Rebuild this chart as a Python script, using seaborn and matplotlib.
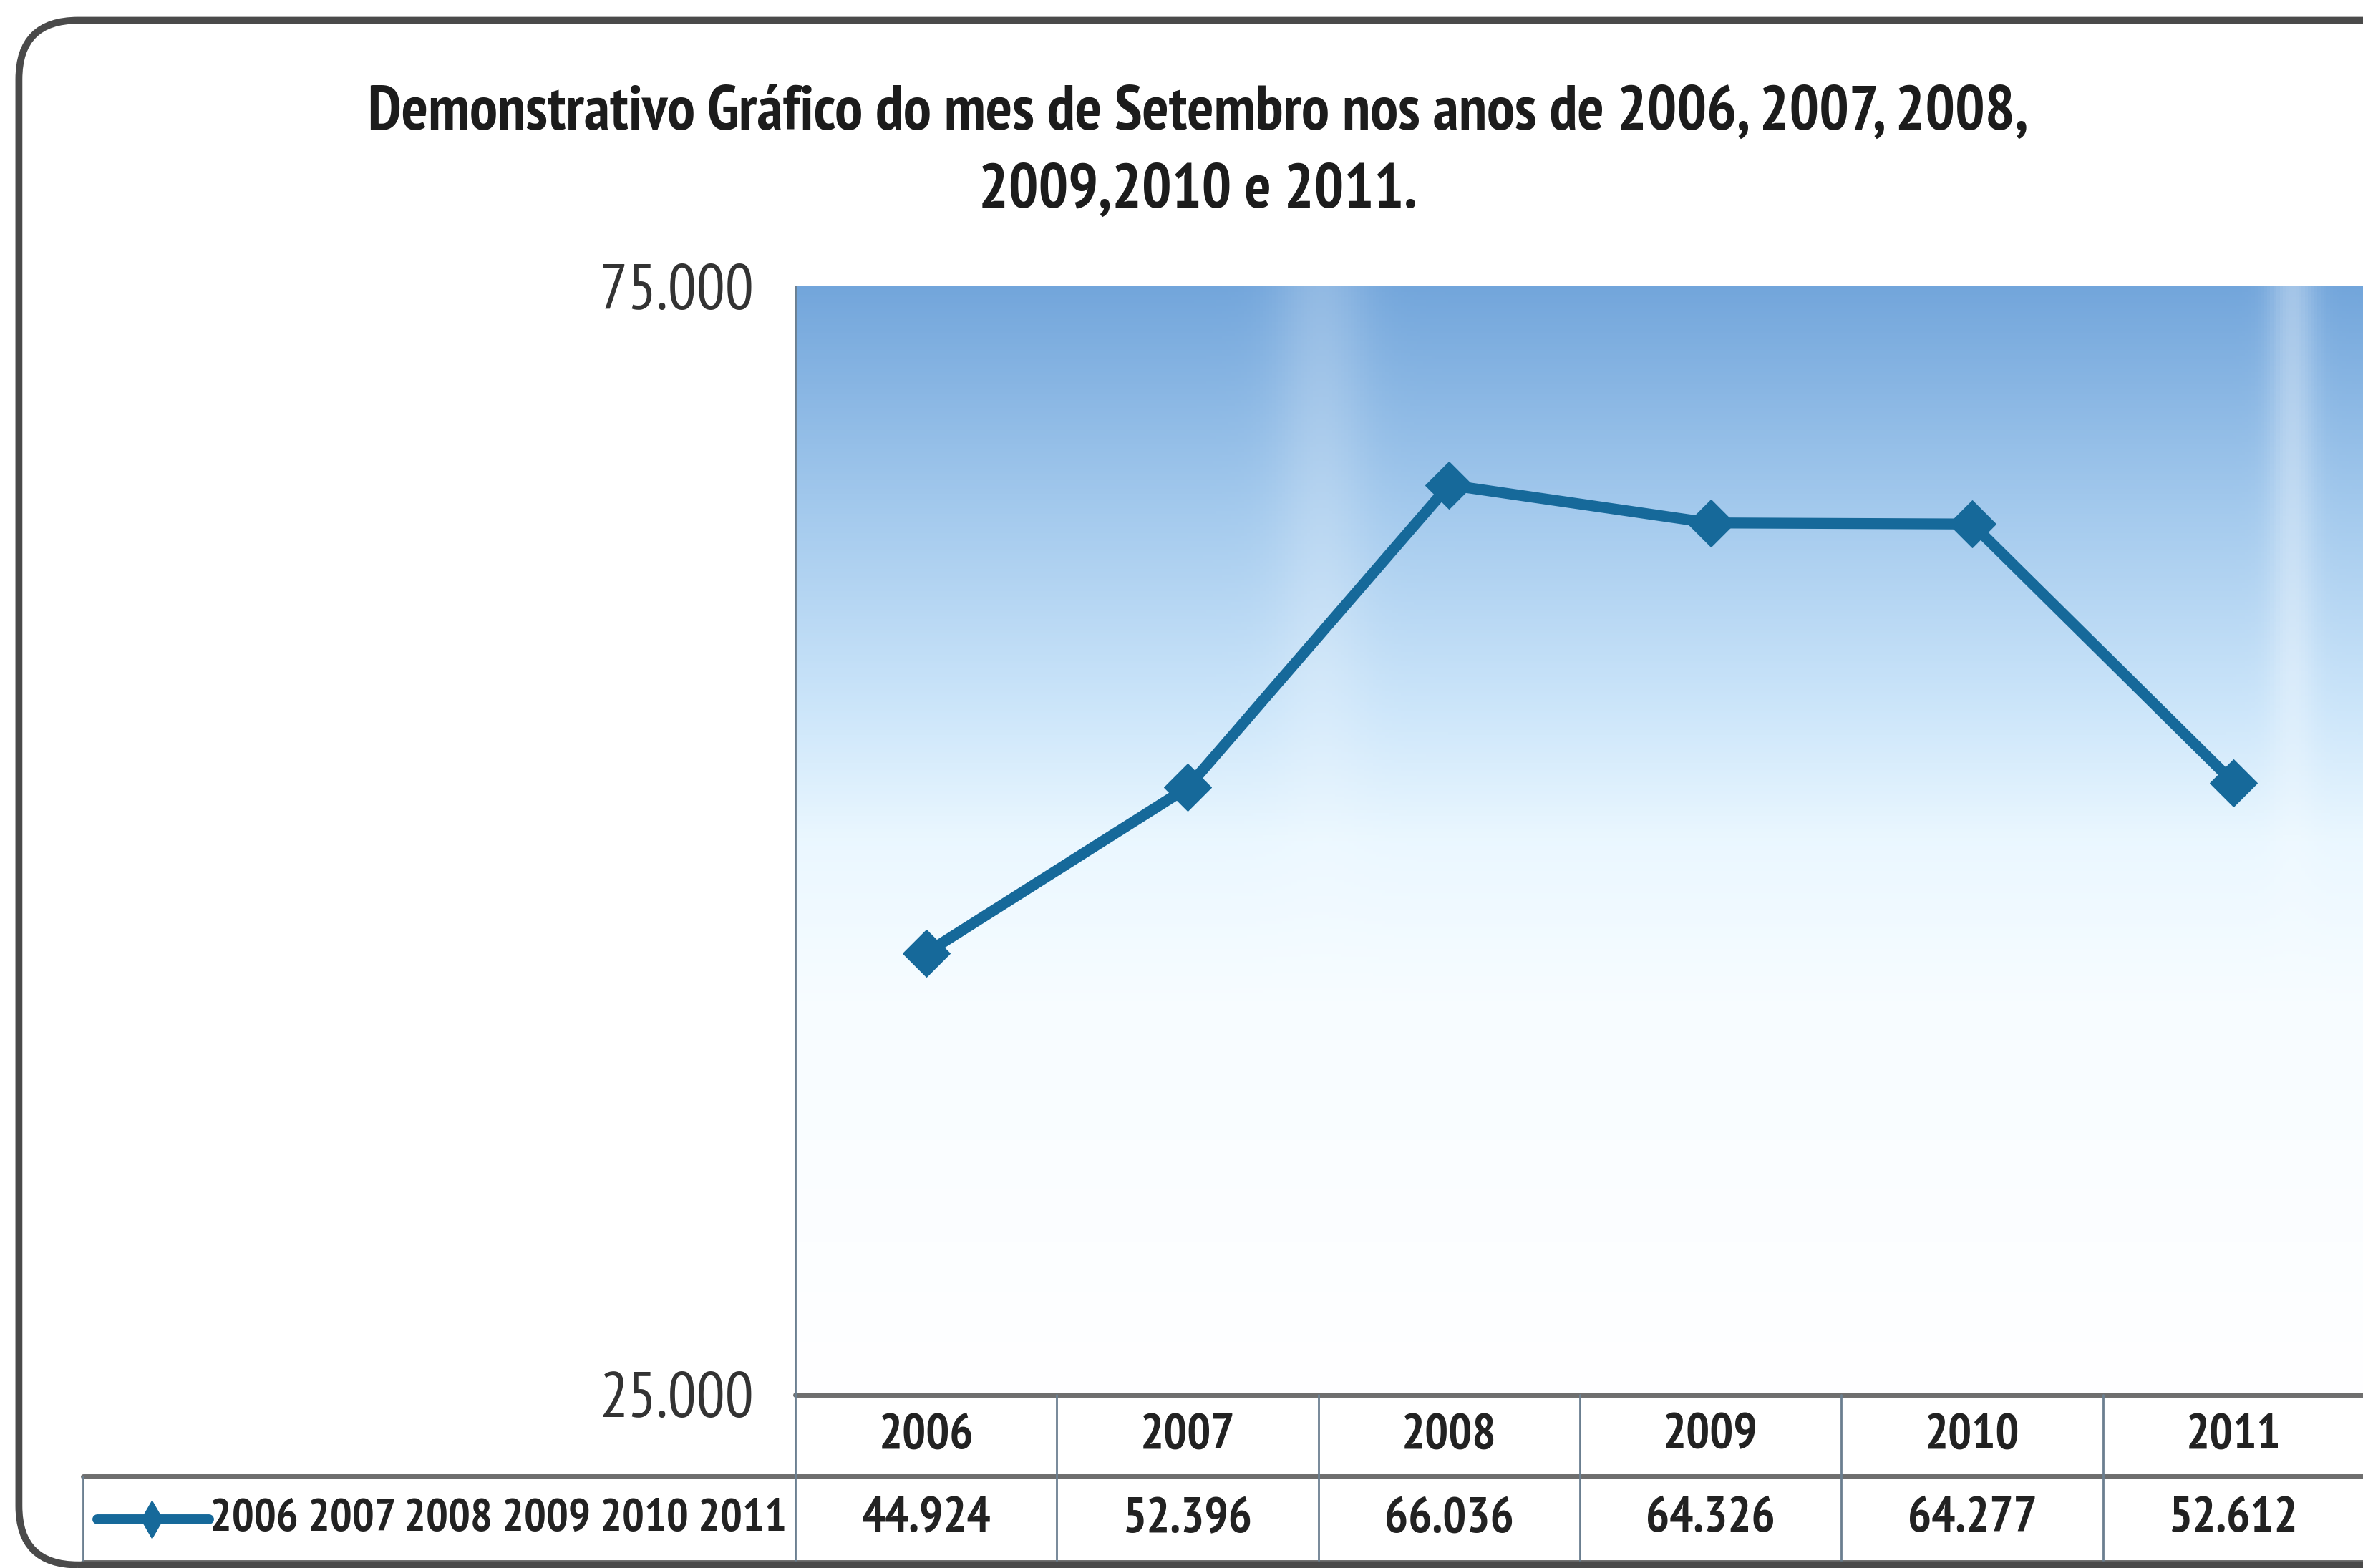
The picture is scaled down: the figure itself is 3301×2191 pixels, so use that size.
import numpy as np
import pandas as pd
import matplotlib
import matplotlib.pyplot as plt
import seaborn as sns
from matplotlib.patches import FancyBboxPatch
from matplotlib.lines import Line2D

# data
anos = ["2006", "2007", "2008", "2009", "2010", "2011"]
valores = [44924, 52396, 66036, 64326, 64277, 52612]
valores_txt = ["44.924", "52.396", "66.036", "64.326", "64.277", "52.612"]
y_ticks = [25000, 75000]
y_labels = ["25.000", "75.000"]
titulo = "Demonstrativo Gráfico do mes de Setembro nos anos de 2006, 2007, 2008,\n2009,2010 e 2011."
serie_nome = "2006 2007 2008 2009 2010 2011"

sns.set_style("white")
plt.rcParams['font.family'] = ['PT Sans Narrow', 'DejaVu Sans']

line_color = "#16699a"

fig = plt.figure(figsize=(33.01, 21.91), dpi=100)
fig.patch.set_facecolor("white")

# rounded outer frame
frame = FancyBboxPatch((0.008, 0.002), 1.2, 0.985, boxstyle="round,pad=0,rounding_size=0.025",
                       transform=fig.transFigure, facecolor="none", edgecolor="#4a4a4a",
                       linewidth=7, zorder=5, mutation_aspect=1.5)
fig.patches.append(frame)

ax = fig.add_axes([0.3366, 0.1105, 0.6640, 0.7069])
ax.set_facecolor("none")

df = pd.DataFrame({"ano": np.arange(len(anos)), "valor": valores})

# gradient background (vertical blue -> white, with faint light streaks)
ny, nx = 400, 500
yy = np.linspace(0, 1, ny)  # 0 bottom, 1 top
xx = np.linspace(0, 1, nx)[None, :]
stops = [0.0, 0.35, 0.5, 0.62, 0.8, 1.0]
cols = np.array([[1.0, 1.0, 1.0],
                 [0.97, 0.99, 1.0],
                 [0.92, 0.97, 1.0],
                 [0.80, 0.90, 0.98],
                 [0.64, 0.79, 0.93],
                 [0.45, 0.65, 0.86]])
prof = np.stack([np.interp(yy, stops, cols[:, k]) for k in range(3)], axis=1)[:, None, :]
streak = (0.22 * np.exp(-((xx - 0.335) / 0.03) ** 2)
          + 0.35 * np.exp(-((xx - 0.955) / 0.015) ** 2))[..., None]
fade = np.clip((yy - 0.35) / 0.3, 0, 1)[:, None, None]
img = prof + (1 - prof) * streak * fade
img = np.clip(img, 0, 1)
ax.imshow(img, extent=[-0.5, len(anos) - 0.5, y_ticks[0], y_ticks[1]], origin="lower",
          aspect="auto", zorder=0)

sns.lineplot(data=df, x="ano", y="valor", ax=ax, color=line_color, linewidth=11,
             marker="D", markersize=34, markeredgecolor=line_color, zorder=3)

ax.set_xlim(-0.5, len(anos) - 0.5)
ax.set_ylim(y_ticks[0], y_ticks[1])
ax.set_yticks(y_ticks)
ax.set_yticklabels(y_labels, fontsize=64, color="#333333")
ax.set_xticks([])
ax.tick_params(axis="y", length=0, pad=42)
ax.set_xlabel("")
ax.set_ylabel("")
for s in ["top", "right", "bottom"]:
    ax.spines[s].set_visible(False)
ax.spines["left"].set_color("#6b7f90")
ax.spines["left"].set_linewidth(2)

# data table below the axes
h1 = 0.0736
h2 = 0.0775
x_left = -0.454
n = len(anos)
tr = ax.transAxes
kw = dict(transform=tr, clip_on=False)
gray = "#6e6e6e"
ax.add_line(Line2D([0, 1.0], [0, 0], color=gray, linewidth=5, **kw))
ax.add_line(Line2D([x_left, 1.0], [-h1, -h1], color=gray, linewidth=5, **kw))
ax.add_line(Line2D([x_left, 1.0], [-h1 - h2, -h1 - h2], color=gray, linewidth=5, **kw))
ax.add_line(Line2D([0, 0], [0, -h1 - h2], color="#6b7f90", linewidth=2, **kw))
ax.add_line(Line2D([x_left, x_left], [-h1, -h1 - h2], color="#6b7f90", linewidth=2, **kw))
for i in range(1, n + 1):
    xb = i / n
    ax.add_line(Line2D([xb, xb], [0, -h1 - h2], color="#6b7f90", linewidth=2, **kw))
for i in range(n):
    xc = (i + 0.5) / n
    ax.text(xc, -h1 / 2, anos[i], ha="center", va="center", fontsize=50,
            fontweight="bold", color="#222222", transform=tr)
    ax.text(xc, -h1 - h2 / 2, valores_txt[i], ha="center", va="center", fontsize=50,
            fontweight="bold", color="#222222", transform=tr)

# legend key in table row
ym = -h1 - h2 / 2
ax.add_line(Line2D([-0.4447, -0.3735], [ym, ym], color=line_color, linewidth=10,
                   solid_capstyle="round", **kw))
ax.add_line(Line2D([-0.410], [ym], color=line_color, marker="d", markersize=26,
                   linestyle="none", **kw))
ax.text(-0.0055, ym, serie_nome, ha="right", va="center", fontsize=46.5,
        fontweight="bold", color="#222222", transform=tr)

fig.text(0.507, 0.9025, titulo, ha="center", va="center", fontsize=63, fontweight="bold",
         color="#1c1c1c", linespacing=1.5)

plt.savefig("out.png", dpi=100)
